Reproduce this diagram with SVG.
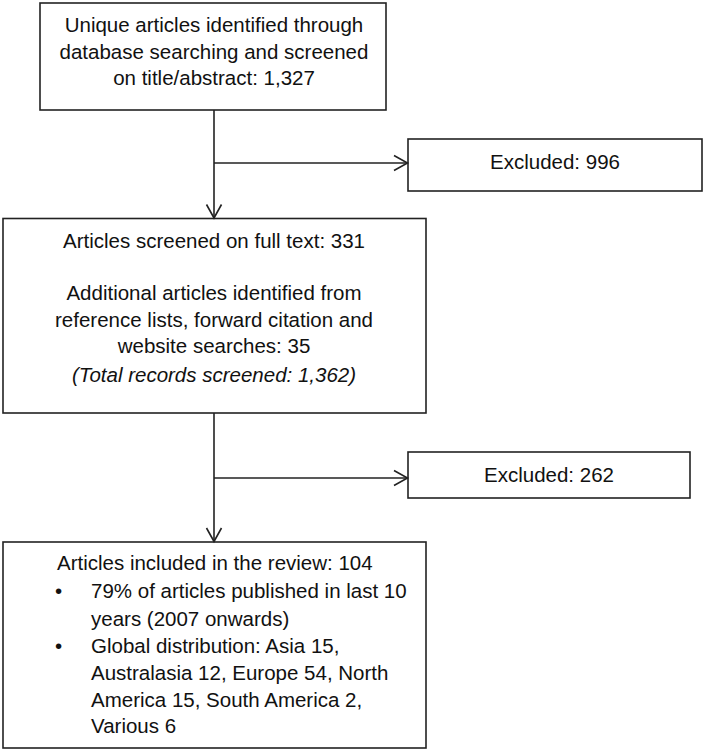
<svg xmlns="http://www.w3.org/2000/svg" width="709" height="752" viewBox="0 0 709 752">
<style>
.box{fill:#fff;stroke:#222;stroke-width:1.6}
.ln{fill:none;stroke:#222;stroke-width:1.6}
text{font-family:"Liberation Sans",Arial,sans-serif;font-size:20.5px;fill:#111}
.c{text-anchor:middle}
.it{font-style:italic}
</style>
<defs>
<marker id="ah" markerUnits="userSpaceOnUse" markerWidth="20" markerHeight="20" viewBox="-15 -10 20 20" refX="0" refY="0" orient="auto">
<polyline points="-13.5,-7.5 0,0 -13.5,7.5" fill="none" stroke="#222" stroke-width="1.6"/>
</marker>
</defs>
<rect width="709" height="752" fill="#fff"/>
<g id="n1">
<rect class="box" x="40" y="3" width="346" height="107"/>
<text class="c" x="214" y="32">Unique articles identified through</text>
<text class="c" x="214" y="58.5">database searching and screened</text>
<text class="c" x="214" y="85">on title/abstract: 1,327</text>
</g>
<g id="n2">
<rect class="box" x="408" y="139" width="294" height="52"/>
<text class="c" x="555" y="169">Excluded: 996</text>
</g>
<g id="n3">
<rect class="box" x="3" y="218.5" width="423" height="194.5"/>
<text class="c" x="214" y="248">Articles screened on full text: 331</text>
<text class="c" x="214" y="300">Additional articles identified from</text>
<text class="c" x="214" y="327">reference lists, forward citation and</text>
<text class="c" x="214" y="353">website searches: 35</text>
<text class="c it" x="214" y="382">(Total records screened: 1,362)</text>
</g>
<g id="n4">
<rect class="box" x="408" y="452" width="282" height="46"/>
<text class="c" x="549" y="482">Excluded: 262</text>
</g>
<g id="n5">
<rect class="box" x="3" y="542" width="423" height="206"/>
<text x="57" y="570">Articles included in the review: 104</text>
<text x="55" y="598">•</text>
<text x="91" y="598">79% of articles published in last 10</text>
<text x="91" y="626">years (2007 onwards)</text>
<text x="55" y="653">•</text>
<text x="91" y="653">Global distribution: Asia 15,</text>
<text x="91" y="680">Australasia 12, Europe 54, North</text>
<text x="91" y="707">America 15, South America 2,</text>
<text x="91" y="733">Various 6</text>
</g>
<g id="connectors">
<line class="ln" x1="214" y1="110" x2="214" y2="218" marker-end="url(#ah)"/>
<line class="ln" x1="214" y1="163" x2="407.5" y2="163" marker-end="url(#ah)"/>
<line class="ln" x1="214" y1="413" x2="214" y2="541.5" marker-end="url(#ah)"/>
<line class="ln" x1="214" y1="478" x2="407.5" y2="478" marker-end="url(#ah)"/>
</g>
</svg>
